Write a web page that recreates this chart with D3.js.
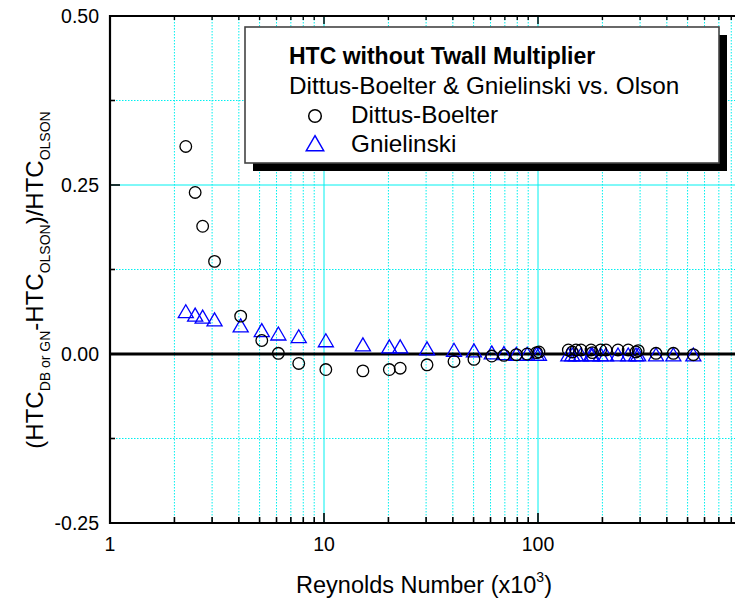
<!DOCTYPE html>
<html><head><meta charset="utf-8">
<script src="https://cdn.jsdelivr.net/npm/d3@7"></script>
<style>
body{margin:0;background:#fff}
svg{display:block}
text{font-family:"Liberation Sans",Arial,Helvetica,sans-serif;fill:#000}
</style>
</head><body>
<svg id="c" width="735" height="606"></svg>
<script>
// ---- data ----
const reynolds = [2.26, 2.5, 2.71, 3.08, 4.08, 5.12, 6.12, 7.62, 10.2, 15.2, 20.2, 22.7, 30.3, 40.5, 50.2, 60.8, 69.3, 79.2, 89, 98.5, 101,
  138.6, 144.6, 150.5, 158.8, 177, 179.5, 196.3, 207.8, 236.5, 264, 287, 294, 356, 429, 532];
const dittusBoelter = [0.307, 0.239, 0.189, 0.137, 0.056, 0.020, 0.001, -0.014, -0.023, -0.025, -0.023, -0.021, -0.016, -0.011, -0.008, -0.003, -0.002, -0.001, 0.000, 0.002, 0.003,
  0.006, 0.003, 0.006, 0.006, 0.006, 0.002, 0.006, 0.006, 0.006, 0.006, 0.003, 0.005, 0.001, 0.001, -0.001];
const gnielinski = [0.061, 0.056, 0.053, 0.049, 0.040, 0.033, 0.028, 0.024, 0.018, 0.012, 0.009, 0.009, 0.006, 0.004, 0.003, 0.000, -0.001, -0.002, -0.002, -0.002, -0.002,
  -0.003, -0.003, -0.003, -0.003, -0.003, -0.003, -0.003, -0.003, -0.003, -0.003, -0.003, -0.003, -0.003, -0.003, -0.003];
const xTickLabels = ["1", "10", "100"];
const xTickValues = [1, 10, 100];
const yTickLabels = ["-0.25", "0.00", "0.25", "0.50"];
const yTickValues = [-0.25, 0, 0.25, 0.5];
const legendTitle = "HTC without Twall Multiplier";
const legendSubtitle = "Dittus-Boelter & Gnielinski vs. Olson";
const seriesNames = ["Dittus-Boelter", "Gnielinski"];
const seriesColors = ["#000000", "#0000ff"];

// ---- scales ----
const svg = d3.select("#c");
const W = 735;
const x = d3.scaleLog().domain([1, 1000]).range([110, 752]);
const y = d3.scaleLinear().domain([-0.25, 0.5]).range([523, 16]);
const x0 = x.range()[0], y0 = y.range()[0], yTop = y.range()[1];

const cyan = "#00f0f0";
const xAll = x.ticks().filter(v => v > 1 && v < 1000);
const isMajor = v => Math.abs(Math.log10(v) - Math.round(Math.log10(v))) < 1e-9;
const yGrid = d3.range(-0.125, 0.5, 0.125).filter(v => Math.abs(v) > 1e-9);

const g = svg.append("g");
// vertical gridlines
g.selectAll("line.vg").data(xAll).join("line")
  .attr("x1", d => x(d)).attr("x2", d => x(d)).attr("y1", yTop).attr("y2", y0)
  .attr("stroke", cyan).attr("stroke-width", 1)
  .attr("stroke-dasharray", d => isMajor(d) ? null : "1.5,1.5");
// horizontal gridlines
g.selectAll("line.hg").data(yGrid).join("line")
  .attr("x1", x0).attr("x2", W).attr("y1", d => y(d)).attr("y2", d => y(d))
  .attr("stroke", cyan).attr("stroke-width", 1)
  .attr("stroke-dasharray", d => Math.abs(d % 0.25) < 1e-9 ? null : "1.5,1.5");

// zero line
g.append("line").attr("x1", x0).attr("x2", W).attr("y1", y(0)).attr("y2", y(0))
  .attr("stroke", "#000").attr("stroke-width", 3);

// axes lines
g.append("line").attr("x1", x0).attr("x2", W).attr("y1", y0).attr("y2", y0).attr("stroke", "#000").attr("stroke-width", 2.2);
g.append("line").attr("x1", x0 - 1).attr("x2", W).attr("y1", yTop).attr("y2", yTop).attr("stroke", "#000").attr("stroke-width", 2.2);
g.append("line").attr("x1", x0).attr("x2", x0).attr("y1", yTop - 1).attr("y2", y0 + 1).attr("stroke", "#000").attr("stroke-width", 2.2);

// bottom ticks (inward)
g.selectAll("line.bt").data(xAll).join("line")
  .attr("x1", d => x(d)).attr("x2", d => x(d)).attr("y1", y0).attr("y2", d => y0 - (isMajor(d) ? 10 : 6))
  .attr("stroke", "#000").attr("stroke-width", 1.6);
// top ticks (inward)
g.selectAll("line.tt").data(xAll).join("line")
  .attr("x1", d => x(d)).attr("x2", d => x(d)).attr("y1", yTop).attr("y2", d => yTop + (isMajor(d) ? 8 : 4))
  .attr("stroke", "#000").attr("stroke-width", 1.4);
// left ticks (inward)
const yTicksAll = d3.range(-0.25, 0.5001, 0.125);
g.selectAll("line.lt").data(yTicksAll).join("line")
  .attr("x1", x0).attr("x2", d => x0 + (Math.abs(d / 0.25 - Math.round(d / 0.25)) < 1e-9 ? 10 : 5))
  .attr("y1", d => y(d)).attr("y2", d => y(d))
  .attr("stroke", "#000").attr("stroke-width", 1.6);

// tick labels
g.selectAll("text.yl").data(yTickValues).join("text")
  .attr("x", 99).attr("y", d => y(d)).attr("dy", "0.35em")
  .attr("text-anchor", "end").attr("font-size", 19.5)
  .text((d, i) => yTickLabels[i]);
g.selectAll("text.xl").data(xTickValues).join("text")
  .attr("x", d => x(d)).attr("y", 551)
  .attr("text-anchor", "middle").attr("font-size", 19.5)
  .text((d, i) => xTickLabels[i]);

// axis titles
const xt = svg.append("text").attr("x", 424).attr("y", 593).attr("text-anchor", "middle").attr("font-size", 23.5);
xt.append("tspan").text("Reynolds Number (x10");
xt.append("tspan").attr("dy", -11).attr("font-size", 14).text("3");
xt.append("tspan").attr("dy", 11).text(")");

const yt = svg.append("text").attr("transform", "translate(43,280) rotate(-90)").attr("text-anchor", "middle").attr("font-size", 24);
yt.append("tspan").text("(HTC");
yt.append("tspan").attr("dy", 7).attr("font-size", 14).text("DB or GN");
yt.append("tspan").attr("dy", -7).text("-HTC");
yt.append("tspan").attr("dy", 7).attr("font-size", 14).text("OLSON");
yt.append("tspan").attr("dy", -7).text(")/HTC");
yt.append("tspan").attr("dy", 7).attr("font-size", 14).text("OLSON");

// data
const tri = s => `M0,${-s*0.62}L${s*0.58},${s*0.38}L${-s*0.58},${s*0.38}Z`;
const dbData = reynolds.map((r, i) => [r, dittusBoelter[i]]);
const gnData = reynolds.map((r, i) => [r, gnielinski[i]]);
svg.append("g").selectAll("path").data(gnData).join("path")
  .attr("transform", d => `translate(${x(d[0])},${y(d[1])})`)
  .attr("d", tri(13)).attr("fill", "none").attr("stroke", seriesColors[1]).attr("stroke-width", 1.3);
svg.append("g").selectAll("circle").data(dbData).join("circle")
  .attr("cx", d => x(d[0])).attr("cy", d => y(d[1])).attr("r", 5.8)
  .attr("fill", "none").attr("stroke", seriesColors[0]).attr("stroke-width", 1.3);

// legend
const lg = svg.append("g");
lg.append("rect").attr("x", 253).attr("y", 35).attr("width", 474).attr("height", 136).attr("fill", "#000");
lg.append("rect").attr("x", 245).attr("y", 27).attr("width", 474).attr("height", 136).attr("fill", "#fff").attr("stroke", "#444").attr("stroke-width", 1.6);
lg.append("text").attr("x", 289).attr("y", 64).attr("font-size", 23).attr("font-weight", "bold").text(legendTitle);
lg.append("text").attr("x", 289).attr("y", 94).attr("font-size", 24.3).text(legendSubtitle);
lg.append("circle").attr("cx", 315).attr("cy", 116).attr("r", 6.3).attr("fill", "none").attr("stroke", seriesColors[0]).attr("stroke-width", 1.5);
lg.append("path").attr("transform", "translate(315,145)").attr("d", tri(15)).attr("fill", "none").attr("stroke", seriesColors[1]).attr("stroke-width", 1.5);
lg.selectAll("text.ln").data(seriesNames).join("text")
  .attr("x", 351).attr("y", (d, i) => 123 + i * 29).attr("font-size", 24.3).text(d => d);
</script>
</body></html>
